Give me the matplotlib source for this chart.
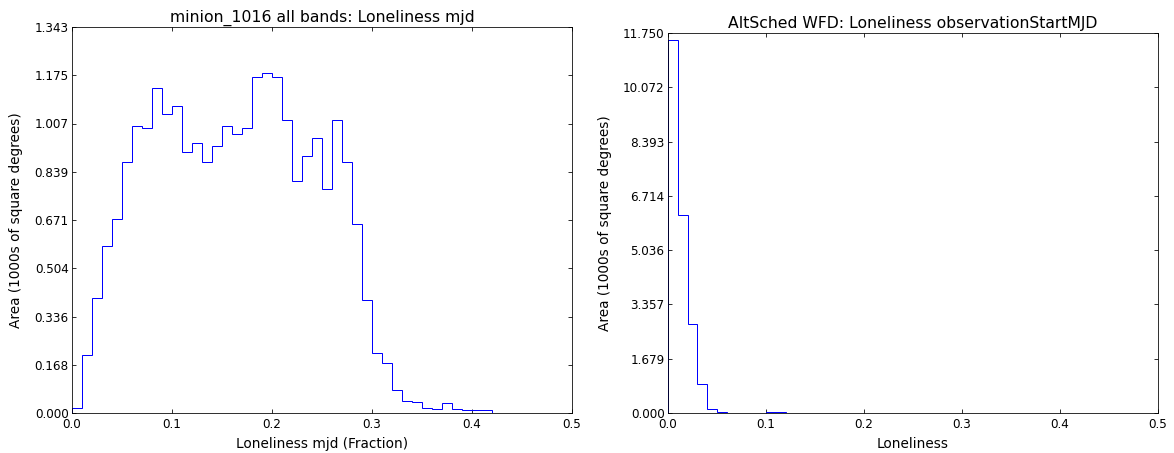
import matplotlib
matplotlib.use('Agg')
import matplotlib.pyplot as plt
import numpy as np

# bin edges shared by both histograms
bin_edges = np.linspace(0, 0.5, 51)

# minion_1016: area per loneliness bin (1000s of sq deg)
minion_area = [0.019, 0.202, 0.400, 0.582, 0.675, 0.873, 0.998, 0.992, 1.132, 1.042,
               1.067, 0.909, 0.941, 0.874, 0.930, 0.998, 0.969, 0.992, 1.169, 1.183,
               1.170, 1.019, 0.808, 0.893, 0.957, 0.778, 1.021, 0.873, 0.656, 0.392,
               0.209, 0.175, 0.080, 0.042, 0.040, 0.019, 0.015, 0.034, 0.013, 0.011,
               0.011, 0.011, 0.0, 0.0, 0.0, 0.0, 0.0, 0.0, 0.0, 0.0]

# AltSched WFD: area per loneliness bin
altsched_area = [11.53, 6.12, 2.75, 0.887, 0.124, 0.03, 0.008, 0.006, 0.005, 0.01,
                 0.02, 0.02, 0.006, 0.004, 0.003, 0.003, 0.002, 0.002, 0.002, 0.002,
                 0.002, 0.002, 0.001, 0.001, 0.001, 0.001, 0.001, 0.001, 0.001, 0.001,
                 0.001, 0.001, 0.001, 0.001, 0.001, 0.001, 0.001, 0.001, 0.001, 0.001,
                 0.001, 0.001, 0.001, 0.001, 0.001, 0.001, 0.001, 0.001, 0.001, 0.001]

plt.rcParams['font.family'] = 'DejaVu Sans'

dpi = 72
fig = plt.figure(figsize=(1174 / dpi, 453 / dpi), dpi=dpi, facecolor='white')

ax1 = fig.add_axes([72 / 1174, 40 / 453, 500 / 1174, 386 / 453])
ax2 = fig.add_axes([668 / 1174, 40 / 453, 490 / 1174, 380 / 453])

centers = (bin_edges[:-1] + bin_edges[1:]) / 2


def draw(ax, values, ymax, nticks, title, xlabel):
    ax.hist(centers, bins=bin_edges, weights=values, histtype='step', color='b', linewidth=1)
    ax.set_xlim(0, 0.5)
    ax.set_ylim(0, ymax)
    ax.set_yticks(np.linspace(0, ymax, nticks))
    ax.yaxis.set_major_formatter(matplotlib.ticker.FormatStrFormatter('%.3f'))
    ax.set_xticks([0.0, 0.1, 0.2, 0.3, 0.4, 0.5])
    ax.xaxis.set_major_formatter(matplotlib.ticker.FormatStrFormatter('%.1f'))
    ax.tick_params(direction='in', top=True, right=True, length=4, labelsize=12)
    ax.tick_params(axis='x', pad=5)
    ax.set_title(title, fontsize=15.6, pad=5)
    ax.set_xlabel(xlabel, fontsize=13.6, labelpad=6)
    ax.set_ylabel('Area (1000s of square degrees)', fontsize=13.6, labelpad=11)


draw(ax1, minion_area, 1.343, 9, 'minion_1016 all bands: Loneliness mjd', 'Loneliness mjd (Fraction)')
draw(ax2, altsched_area, 11.7502, 8, 'AltSched WFD: Loneliness observationStartMJD', 'Loneliness')

fig.savefig('out.png', dpi=dpi, facecolor='white')
